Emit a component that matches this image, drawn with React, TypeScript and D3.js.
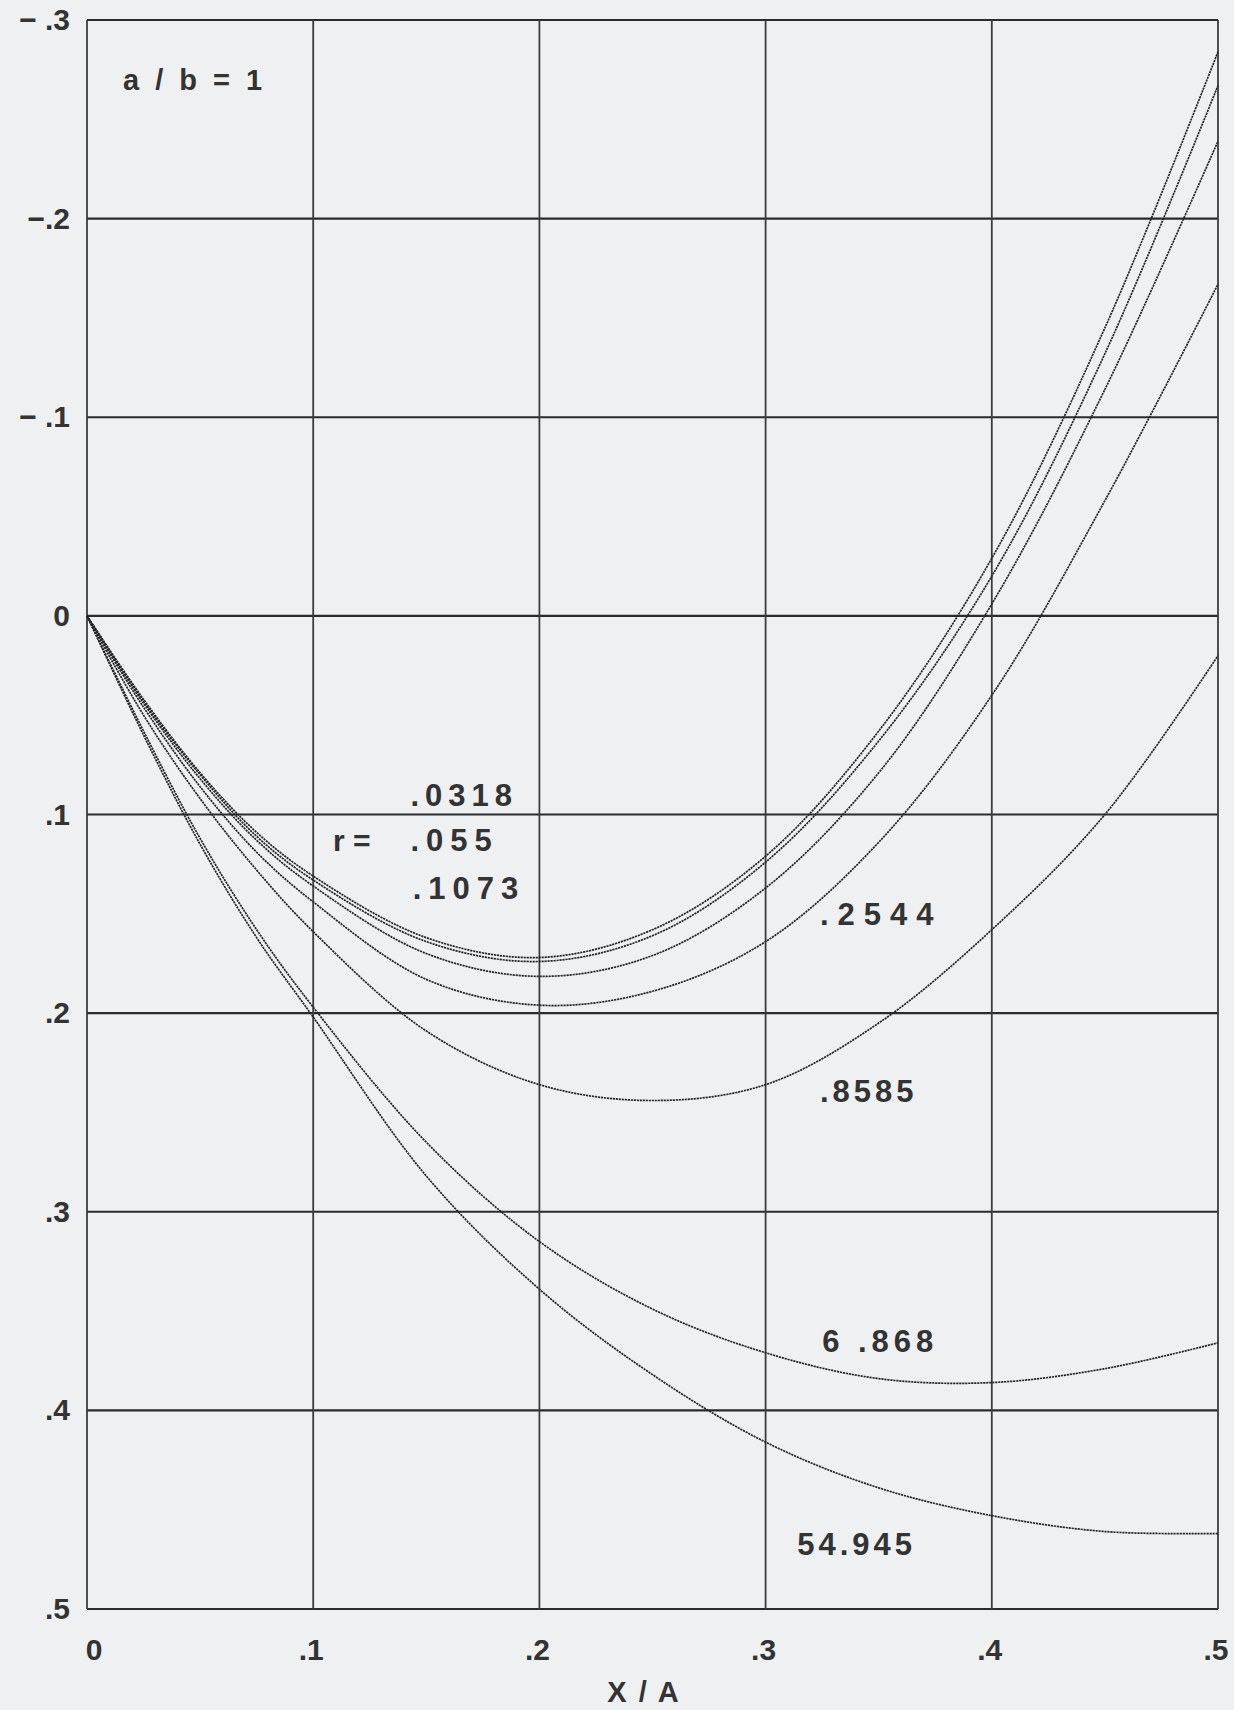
import React from 'react';
import * as d3 from 'd3';

// x / A sample positions
const xPos = [0, 0.025, 0.05, 0.075, 0.1, 0.15, 0.2, 0.25, 0.3, 0.35, 0.4, 0.45, 0.5];

// one row of values per r
const r0318 = [0, 0.042, 0.079, 0.109, 0.131, 0.162, 0.172, 0.158, 0.121, 0.058, -0.029, -0.145, -0.284];
const r055 = [0, 0.043, 0.080, 0.111, 0.133, 0.164, 0.174, 0.161, 0.124, 0.063, -0.020, -0.132, -0.267];
const r1073 = [0, 0.044, 0.082, 0.113, 0.136, 0.170, 0.1815, 0.171, 0.137, 0.079, -0.006, -0.114, -0.239];
const r2544 = [0, 0.046, 0.086, 0.119, 0.144, 0.183, 0.196, 0.189, 0.164, 0.114, 0.040, -0.058, -0.167];
const r8585 = [0, 0.050, 0.092, 0.128, 0.159, 0.209, 0.236, 0.244, 0.236, 0.205, 0.158, 0.100, 0.020];
const r6868 = [0, 0.058, 0.112, 0.158, 0.197, 0.265, 0.315, 0.349, 0.371, 0.384, 0.386, 0.379, 0.366];
const r54945 = [0, 0.060, 0.115, 0.162, 0.202, 0.282, 0.339, 0.382, 0.416, 0.439, 0.453, 0.461, 0.462];

const seriesList = [r0318, r055, r1073, r2544, r8585, r6868, r54945];

// ticks
const xTicks = [0, 0.1, 0.2, 0.3, 0.4, 0.5];
const xTickLabels = ['0', '.1', '.2', '.3', '.4', '.5'];
const yTicks = [-0.3, -0.2, -0.1, 0, 0.1, 0.2, 0.3, 0.4, 0.5];
const yTickLabels = ['− .3', '−.2', '− .1', '0', '.1', '.2', '.3', '.4', '.5'];

// curve labels: text, x, y in data units
const labelTexts = ['.0318', '.055', '.1073', '.2544', '.8585', '6 .868', '54.945'];
const labelX = [0.143, 0.143, 0.144, 0.324, 0.324, 0.325, 0.314];
const labelY = [0.0955, 0.1185, 0.1425, 0.1555, 0.2445, 0.3705, 0.473];
const labelSpacing = [6, 7, 7, 9, 4, 5, 4];

const W = 1234;
const H = 1710;
const margin = { left: 87, right: 16, top: 20, bottom: 101 };

export default function App() {
  const x = d3.scaleLinear().domain([0, 0.5]).range([margin.left, W - margin.right]);
  const y = d3.scaleLinear().domain([-0.3, 0.5]).range([margin.top, H - margin.bottom]);

  const line = d3.line<number>()
    .x((_, i) => x(xPos[i]))
    .y(d => y(d))
    .curve(d3.curveCatmullRom.alpha(0.5));

  const font = '"Liberation Sans", Arial, sans-serif';
  const ink = '#333';

  return (
    <svg width={W} height={H} style={{ position: 'absolute', left: 0, top: 0 }}>
      <rect x={0} y={0} width={W} height={H} fill="#eef0f2" />

      {/* grid */}
      {yTicks.map(t => (
        <line key={'h' + t} x1={x(0)} x2={x(0.5)} y1={y(t)} y2={y(t)} stroke="#2b2b2b" strokeWidth={2.2} />
      ))}
      {xTicks.map(t => (
        <line key={'v' + t} x1={x(t)} x2={x(t)} y1={y(-0.3)} y2={y(0.5)} stroke="#3c3c3c" strokeWidth={1.8} />
      ))}

      {/* curves */}
      {seriesList.map((s, i) => (
        <path key={'c' + i} d={line(s) || ''} fill="none" stroke="#262626" strokeWidth={1.7} strokeDasharray="2.2 0.8" />
      ))}

      {/* y tick labels */}
      {yTicks.map((t, i) => (
        <text key={'yl' + t} x={70} y={y(t) + 10} textAnchor="end" fontFamily={font} fontWeight={700} fontSize={30} fill={ink}>
          {yTickLabels[i]}
        </text>
      ))}

      {/* x tick labels */}
      {xTicks.map((t, i) => (
        <text key={'xl' + t} x={x(t) + (i === 0 ? 7 : -2)} y={1660} textAnchor="middle" fontFamily={font} fontWeight={700} fontSize={30} fill={ink}>
          {xTickLabels[i]}
        </text>
      ))}
      <text x={644} y={1702} textAnchor="middle" fontFamily={font} fontWeight={700} fontSize={29} letterSpacing={2} fill={ink}>
        X / A
      </text>

      {/* annotations */}
      <text x={123} y={90} fontFamily={font} fontWeight={700} fontSize={29} letterSpacing={4} fill={ink}>
        a / b = 1
      </text>
      <text x={333} y={y(0.1185)} fontFamily={font} fontWeight={700} fontSize={30} fill={ink}>
        r =
      </text>
      {labelTexts.map((t, i) => (
        <text key={'lab' + i} x={x(labelX[i])} y={y(labelY[i])} fontFamily={font} fontWeight={700} fontSize={31} letterSpacing={labelSpacing[i]} fill={ink}>
          {t}
        </text>
      ))}
    </svg>
  );
}
